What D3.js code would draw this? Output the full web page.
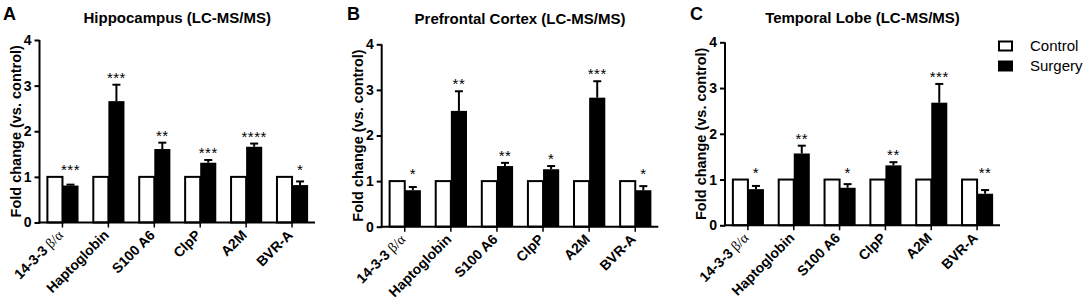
<!DOCTYPE html>
<html>
<head>
<meta charset="utf-8">
<script src="https://cdn.jsdelivr.net/npm/d3@7"></script>
<style>
  body { margin: 0; background: #fff; }
  svg { display: block; font-family: "Liberation Sans", Arial, sans-serif; }
</style>
</head>
<body>
<div id="chart"></div>
<script>
const categories = ["14-3-3", "Haptoglobin", "S100 A6", "ClpP", "A2M", "BVR-A"];
const yTicks = [0, 1, 2, 3, 4];
const controlValues = [1, 1, 1, 1, 1, 1];

const hippoSurgery = [0.81, 2.66, 1.61, 1.31, 1.66, 0.82];
const hippoError = [0.02, 0.36, 0.14, 0.06, 0.07, 0.08];
const hippoStars = ["***", "***", "**", "***", "****", "*"];

const pfcSurgery = [0.80, 2.54, 1.33, 1.26, 2.83, 0.80];
const pfcError = [0.07, 0.43, 0.07, 0.07, 0.36, 0.09];
const pfcStars = ["*", "**", "**", "*", "***", "*"];

const temporalSurgery = [0.79, 1.57, 0.82, 1.31, 2.68, 0.69];
const temporalError = [0.07, 0.17, 0.08, 0.07, 0.41, 0.08];
const temporalStars = ["*", "**", "*", "**", "***", "**"];

const legendLabels = ["Control", "Surgery"];

const width = 1084, height = 302;

const svg = d3.select("#chart")
    .append("svg")
    .attr("width", width)
    .attr("height", height);

// layout of each panel (pixel positions only)
const panels = [
    { letter: "A", title: "Hippocampus (LC-MS/MS)", surgery: hippoSurgery, err: hippoError, stars: hippoStars,
      x0: 39.5, x1: 315, y0: 222.5, y4: 40, letterX: 3, titleY: 23 },
    { letter: "B", title: "Prefrontal Cortex (LC-MS/MS)", surgery: pfcSurgery, err: pfcError, stars: pfcStars,
      x0: 381.7, x1: 658.3, y0: 226.7, y4: 44.3, letterX: 347, titleY: 24 },
    { letter: "C", title: "Temporal Lobe (LC-MS/MS)", surgery: temporalSurgery, err: temporalError, stars: temporalStars,
      x0: 725, x1: 1000, y0: 225.3, y4: 42.3, letterX: 690, titleY: 23 }
];

panels.forEach(p => {
    const g = svg.append("g");

    const x = d3.scaleBand()
        .domain(categories)
        .range([p.x0, p.x1])
        .paddingInner(0.3)
        .paddingOuter(0.15);

    const y = d3.scaleLinear()
        .domain([0, 4])
        .range([p.y0, p.y4]);

    const half = x.bandwidth() / 2;

    g.append("text")
        .attr("x", p.letterX)
        .attr("y", 20)
        .style("font-size", "18px")
        .style("font-weight", "bold")
        .text(p.letter);

    g.append("text")
        .attr("x", (p.x0 + p.x1) / 2)
        .attr("y", p.titleY)
        .attr("text-anchor", "middle")
        .style("font-size", "15px")
        .style("font-weight", "bold")
        .text(p.title);

    g.append("text")
        .attr("transform", `translate(${p.x0 - 19}, ${(p.y0 + p.y4) / 2}) rotate(-90)`)
        .attr("text-anchor", "middle")
        .style("font-size", "14.5px")
        .style("font-weight", "bold")
        .text("Fold change (vs. control)");

    // control bars
    g.selectAll(".ctrl")
        .data(categories)
        .enter()
        .append("rect")
        .attr("x", d => x(d) + 1)
        .attr("y", (d, i) => y(controlValues[i]))
        .attr("width", half - 1)
        .attr("height", (d, i) => p.y0 - y(controlValues[i]))
        .attr("fill", "#fff")
        .attr("stroke", "#000")
        .attr("stroke-width", 2);

    // surgery bars
    g.selectAll(".surg")
        .data(categories)
        .enter()
        .append("rect")
        .attr("x", d => x(d) + half)
        .attr("y", (d, i) => y(p.surgery[i]))
        .attr("width", half)
        .attr("height", (d, i) => p.y0 - y(p.surgery[i]))
        .attr("fill", "#000");

    // error bars (upper only) and significance stars
    categories.forEach((d, i) => {
        const cx = x(d) + half * 1.5;
        const top = y(p.surgery[i] + p.err[i]);
        g.append("line")
            .attr("x1", cx).attr("x2", cx)
            .attr("y1", y(p.surgery[i])).attr("y2", top)
            .attr("stroke", "#000").attr("stroke-width", 2);
        g.append("line")
            .attr("x1", cx - 4).attr("x2", cx + 4)
            .attr("y1", top).attr("y2", top)
            .attr("stroke", "#000").attr("stroke-width", 2);

        const level = Math.max(controlValues[i], p.surgery[i] + p.err[i]);
        g.append("text")
            .attr("x", cx)
            .attr("y", y(level) - 2)
            .attr("text-anchor", "middle")
            .style("font-size", "15px")
            .style("letter-spacing", "0.5px")
            .text(p.stars[i]);
    });

    // y axis
    const yAxis = g.append("g")
        .attr("transform", `translate(${p.x0}, 0)`)
        .call(d3.axisLeft(y).tickValues(yTicks).tickSize(5).tickPadding(3).tickFormat(d3.format("d")));
    yAxis.select(".domain").attr("stroke-width", 2).attr("d", `M0,${p.y0 + 1}V${p.y4}`);
    yAxis.selectAll(".tick line").attr("stroke-width", 2);
    yAxis.selectAll(".tick text")
        .style("font-size", "14px")
        .style("font-weight", "bold")
        .style("font-family", "Liberation Sans, Arial, sans-serif")
        .attr("fill", "#000");

    // x axis
    const xAxis = g.append("g")
        .attr("transform", `translate(0, ${p.y0})`)
        .call(d3.axisBottom(x).tickSize(5).tickFormat(""));
    xAxis.select(".domain").attr("stroke-width", 2).attr("d", `M${p.x0 - 1},0H${p.x1}`);
    xAxis.selectAll(".tick line").attr("stroke-width", 1.5);

    categories.forEach((d, i) => {
        const t = g.append("text")
            .attr("transform", `translate(${x(d) + half + 1.5}, ${p.y0 + 13.5}) rotate(-45)`)
            .attr("text-anchor", "end")
            .style("font-size", "14px")
            .style("font-weight", "bold");
        t.append("tspan").text(d);
        if (i === 0) {
            t.append("tspan")
                .style("font-family", "Liberation Serif, serif")
                .style("font-weight", "normal")
                .text(" \u03B2/\u03B1");
        }
    });
});

// legend
const legend = svg.append("g");
legendLabels.forEach((name, i) => {
    legend.append("rect")
        .attr("x", 999)
        .attr("y", 41.5 + i * 20)
        .attr("width", 13)
        .attr("height", 9)
        .attr("fill", i === 0 ? "#fff" : "#000")
        .attr("stroke", "#000")
        .attr("stroke-width", 2);
    legend.append("text")
        .attr("x", 1030)
        .attr("y", 46 + i * 20)
        .attr("dy", "0.35em")
        .style("font-size", "15px")
        .text(name);
});
</script>
</body>
</html>
